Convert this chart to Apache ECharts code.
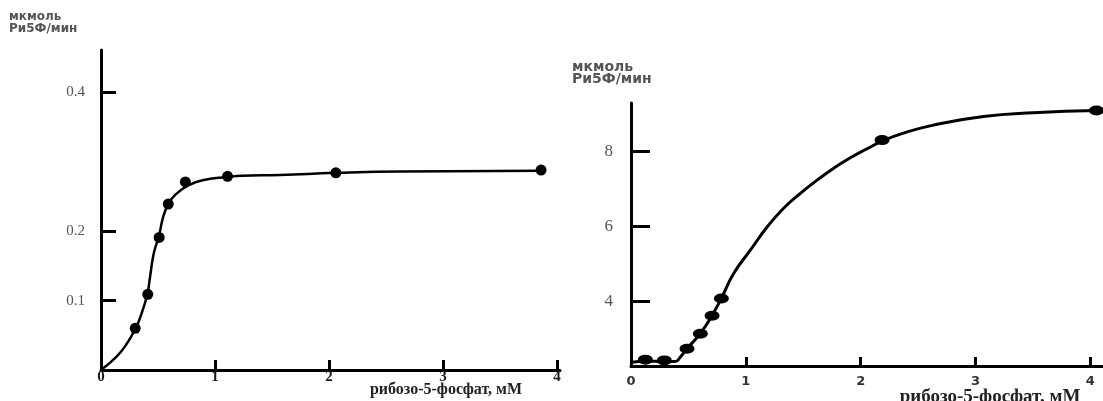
<!DOCTYPE html>
<html>
<head>
<meta charset="utf-8">
<script src="https://cdn.jsdelivr.net/npm/echarts@6/dist/echarts.min.js"></script>
<style>
html,body{margin:0;padding:0;background:#fff;}
#chart{width:1103px;height:401px;}
</style>
</head>
<body>
<div id="chart"></div>
<script>
// ---- Data ----
// Left panel: measured points [substrate mM, rate]
const leftPoints = [
  [0.30, 0.060], [0.41, 0.109], [0.51, 0.191], [0.59, 0.239],
  [0.74, 0.271], [1.11, 0.279], [2.06, 0.284], [3.86, 0.288]
];
// Left panel: hand-drawn fitted curve
const leftCurve = [
  [0, 0], [0.123, 0.017], [0.211, 0.034], [0.304, 0.060], [0.357, 0.082],
  [0.406, 0.109], [0.43, 0.134], [0.459, 0.165], [0.489, 0.183], [0.511, 0.195],
  [0.546, 0.221], [0.59, 0.239], [0.649, 0.252], [0.766, 0.266], [0.912, 0.274],
  [1.111, 0.278], [1.234, 0.280], [1.57, 0.281], [2.059, 0.284], [2.623, 0.286],
  [3.857, 0.287]
];
// Right panel: measured points
const rightPoints = [
  [0.125, 2.45], [0.29, 2.43], [0.488, 2.74], [0.604, 3.14],
  [0.706, 3.62], [0.787, 4.08], [2.186, 8.31], [4.053, 9.10]
];
// Right panel: fitted curve
const rightCurve = [
  [0.01, 2.38], [0.125, 2.41], [0.29, 2.40], [0.386, 2.40], [0.43, 2.52],
  [0.49, 2.75], [0.604, 3.15], [0.706, 3.63], [0.787, 4.09], [0.894, 4.75],
  [1.039, 5.37], [1.185, 5.99], [1.329, 6.49], [1.475, 6.89], [1.62, 7.24],
  [1.765, 7.56], [1.91, 7.84], [2.056, 8.08], [2.186, 8.28], [2.346, 8.47],
  [2.633, 8.71], [3.069, 8.94], [3.504, 9.04], [4.053, 9.10]
];
// Tick labels
const leftXTicks = [0, 1, 2, 3, 4];
const leftYTicks = [0.1, 0.2, 0.4];
const rightXTicks = [0, 1, 2, 3, 4];
const rightYTicks = [4, 6, 8];
// Texts
const yTitle = 'мкмоль\nРи5Ф/мин';
const xTitle = 'рибозо-5-фосфат, мМ';

const chart = echarts.init(document.getElementById('chart'), null, {renderer: 'canvas'});

const axisLine = {show: true, onZero: false, lineStyle: {color: '#000', width: 3}};

const option = {
  animation: false,
  backgroundColor: '#fff',
  grid: [
    {left: 101, top: 50, width: 459, height: 320},
    {left: 631, top: 103, width: 472, height: 263}
  ],
  xAxis: [
    {
      type: 'value', gridIndex: 0, min: 0, max: 4.026,
      axisLine: axisLine,
      splitLine: {show: false},
      axisTick: {show: true, inside: true, length: 10, customValues: leftXTicks.slice(1),
                 lineStyle: {color: '#000', width: 3}},
      axisLabel: {customValues: leftXTicks, margin: 0, color: '#1a1a1a',
                  fontFamily: 'Liberation Serif', fontWeight: 'bold', fontSize: 15}
    },
    {
      type: 'value', gridIndex: 1, min: 0, max: 4.11,
      axisLine: axisLine,
      splitLine: {show: false},
      axisTick: {show: true, inside: true, length: 9, customValues: rightXTicks.slice(1),
                 lineStyle: {color: '#000', width: 3}},
      axisLabel: {customValues: rightXTicks, margin: 9, color: '#333',
                  fontFamily: 'DejaVu Sans', fontWeight: 'bold', fontSize: 13}
    }
  ],
  yAxis: [
    {
      type: 'value', gridIndex: 0, min: 0, max: 0.461,
      axisLine: axisLine,
      splitLine: {show: false},
      axisTick: {show: true, inside: true, length: 15, customValues: leftYTicks,
                 lineStyle: {color: '#000', width: 3}},
      axisLabel: {customValues: leftYTicks, margin: 16, color: '#555',
                  fontFamily: 'Liberation Serif', fontSize: 15}
    },
    {
      type: 'value', gridIndex: 1, min: 2.28, max: 9.3,
      axisLine: axisLine,
      splitLine: {show: false},
      axisTick: {show: true, inside: true, length: 19, customValues: rightYTicks,
                 lineStyle: {color: '#000', width: 3}},
      axisLabel: {customValues: rightYTicks, margin: 18, color: '#555',
                  fontFamily: 'Liberation Serif', fontSize: 17}
    }
  ],
  series: [
    {type: 'line', xAxisIndex: 0, yAxisIndex: 0, data: leftCurve, smooth: 0.5,
     showSymbol: false, lineStyle: {color: '#000', width: 2.5}, z: 2},
    {type: 'scatter', xAxisIndex: 0, yAxisIndex: 0, data: leftPoints,
     symbol: 'circle', symbolSize: 11, itemStyle: {color: '#000', opacity: 1}, z: 3},
    {type: 'line', xAxisIndex: 1, yAxisIndex: 1, data: rightCurve, smooth: 0.5,
     showSymbol: false, lineStyle: {color: '#000', width: 3}, z: 2},
    {type: 'scatter', xAxisIndex: 1, yAxisIndex: 1, data: rightPoints,
     symbol: 'circle', symbolSize: [15, 10], itemStyle: {color: '#000', opacity: 1}, z: 3}
  ],
  graphic: [
    {type: 'text', left: 9, top: 11, style: {text: yTitle, fill: '#555',
      font: 'bold 12px "DejaVu Sans"', lineHeight: 12}},
    {type: 'text', left: 572, top: 60, style: {text: yTitle, fill: '#555',
      font: 'bold 14px "DejaVu Sans"', lineHeight: 12}},
    {type: 'text', x: 446, y: 390, style: {text: xTitle, fill: '#222',
      font: 'bold 16px "Liberation Serif"', align: 'center', verticalAlign: 'middle'}},
    {type: 'text', x: 990, y: 397, style: {text: xTitle, fill: '#222',
      font: 'bold 19px "Liberation Serif"', align: 'center', verticalAlign: 'middle'}}
  ]
};
chart.setOption(option);
</script>
</body>
</html>
